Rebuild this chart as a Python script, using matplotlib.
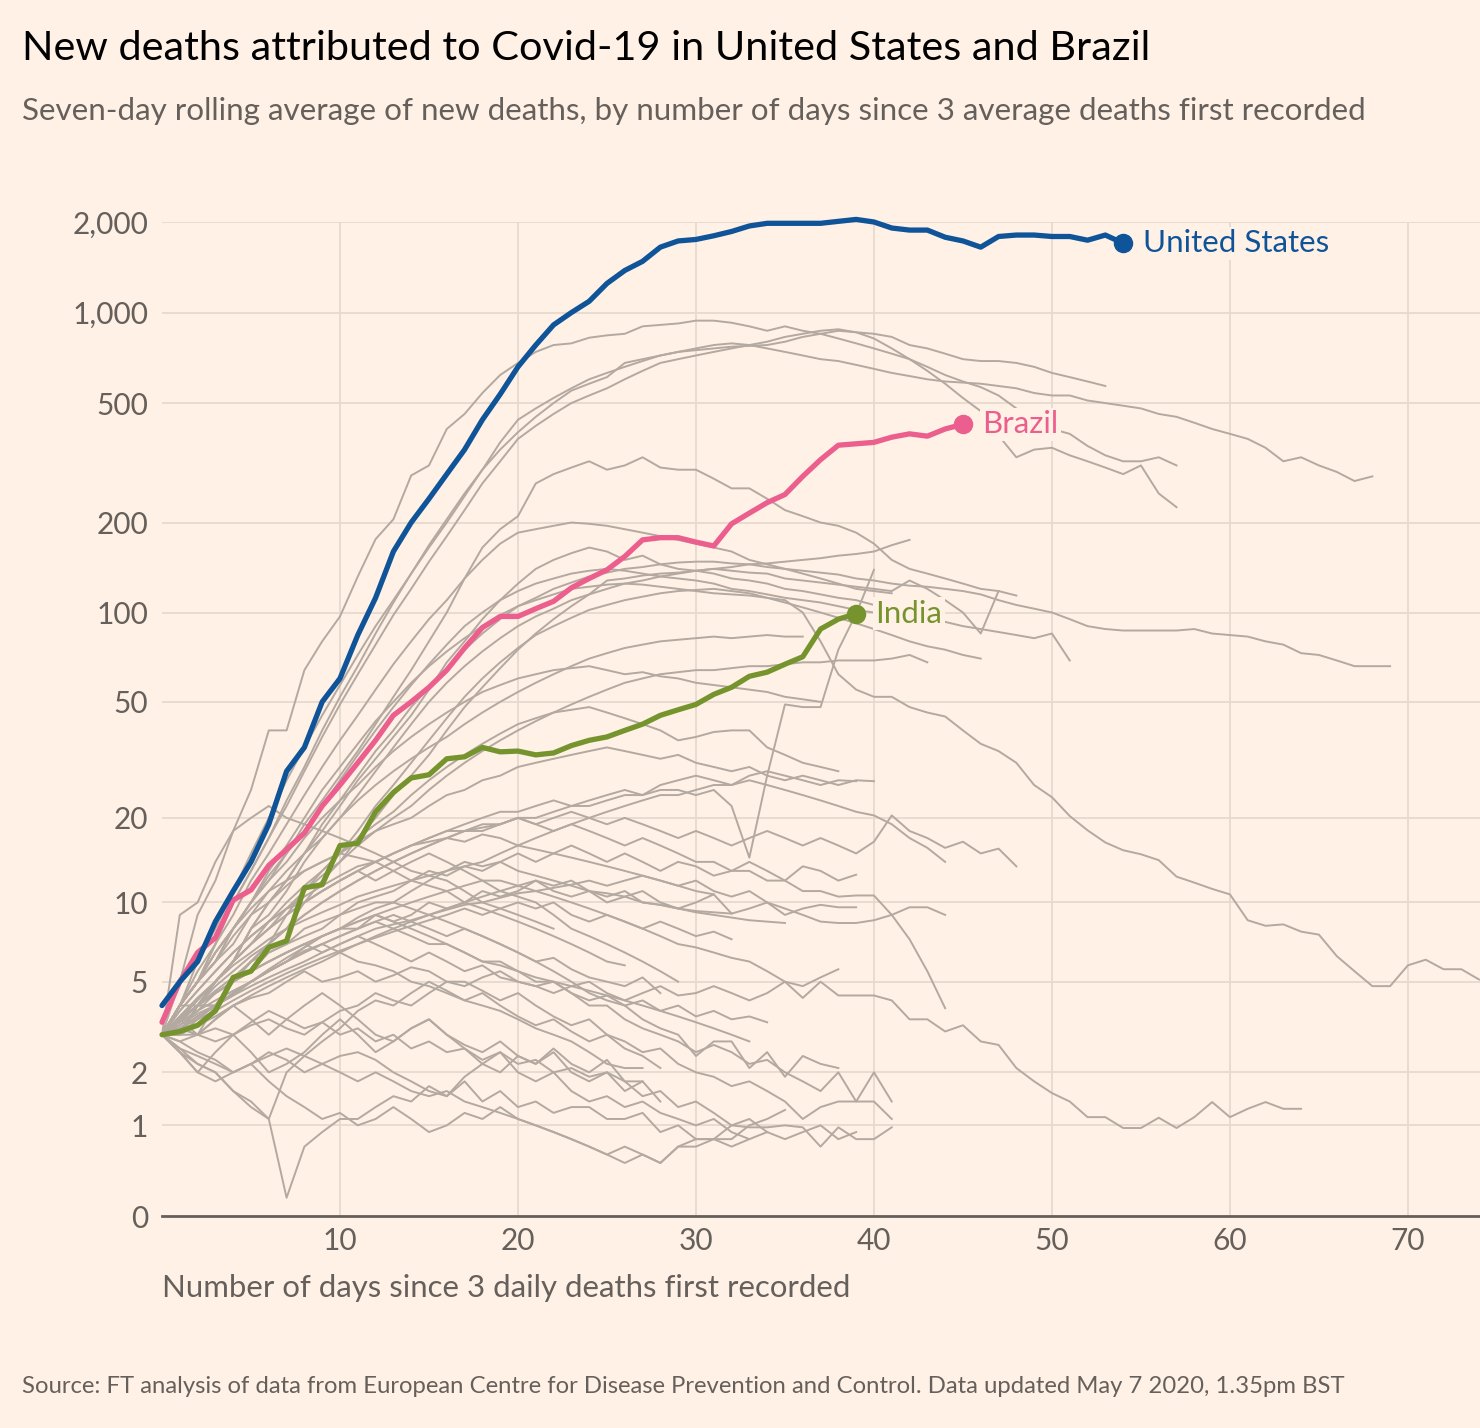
import numpy as np
import matplotlib
matplotlib.use('Agg')
import matplotlib.pyplot as plt

# ---- data: 7-day rolling average of new deaths, by day since 3 deaths ----
us_deaths = [4, 5, 6, 8.5, 11, 14, 19, 29, 35, 50, 60, 84, 112, 160, 200, 240, 290, 350,
             440, 535, 660, 780, 910, 1000, 1090, 1250, 1380, 1480, 1650, 1730, 1750,
             1800, 1860, 1940, 1980, 1980, 1980, 1980, 2010, 2040, 2000, 1910, 1880,
             1880, 1780, 1730, 1650, 1790, 1810, 1810, 1790, 1790, 1740, 1810, 1700]
brazil_deaths = [3.4, 5.0, 6.5, 7.4, 10.2, 11.1, 13.6, 15.5, 17.7, 22, 26, 31, 37, 45, 50,
                 56, 64, 76, 89, 97, 97, 103, 109, 121, 130, 139, 154, 175, 178, 178, 172,
                 167, 198, 215, 233, 248, 285, 324, 362, 366, 370, 385, 395, 388, 410, 425]
india_deaths = [3.0, 3.1, 3.3, 3.8, 5.2, 5.5, 6.8, 7.2, 11.3, 11.6, 16, 16.3, 21, 24.5, 27.5,
                28.2, 32, 32.5, 35, 33.8, 34, 33, 33.5, 35.5, 37, 38, 40, 42, 45, 47, 49, 53,
                56, 61, 63, 67, 71, 88, 95, 99]

# other countries (grey)
other_01 = [3, 4, 5, 7, 10, 13, 17, 23, 30, 40, 52, 66, 85, 108, 135, 168, 205, 250, 300, 350,
            400, 450, 500, 550, 580, 610, 680, 700, 720, 740, 750, 760, 770, 775, 780, 800,
            830, 850, 870, 860, 850, 830, 780, 760, 730, 700, 690, 690, 680, 660, 630, 610,
            590, 570]
other_02 = [3, 5, 9, 12, 18, 25, 40, 40, 64, 80, 97, 132, 176, 205, 287, 310, 410, 460, 540,
            620, 680, 740, 780, 790, 825, 840, 850, 900, 910, 920, 940, 940, 925, 900, 870,
            900, 870, 850, 820, 790, 760, 730, 700, 660, 620, 590, 565, 530, 480, 440, 410,
            395, 360, 335, 320, 320, 330, 310]
other_03 = [3, 4, 6, 8, 11, 15, 20, 27, 35, 45, 57, 72, 90, 110, 135, 165, 200, 245, 300, 370,
            440, 480, 520, 560, 600, 630, 660, 690, 720, 740, 760, 780, 790, 780, 760, 740,
            720, 700, 690, 670, 650, 630, 615, 600, 590, 585, 580, 570, 560, 540, 530, 530,
            510, 500, 490, 480, 460, 450, 430, 410, 395, 380, 355, 320, 330, 310, 295, 275, 285]
other_04 = [3, 4, 5, 7, 10, 13, 17, 22, 29, 38, 49, 62, 78, 98, 120, 148, 180, 220, 270, 320,
            380, 420, 460, 500, 530, 560, 600, 640, 680, 700, 720, 740, 760, 780, 800, 830,
            850, 870, 880, 860, 820, 760, 700, 640, 580, 520, 470, 390, 330, 350, 355, 335,
            320, 305, 290, 310, 250, 225]
other_05 = [3, 4, 5, 6, 8, 10, 12, 15, 19, 23, 28, 34, 42, 52, 64, 80, 100, 130, 165, 190, 210,
            270, 290, 305, 320, 300, 310, 330, 305, 300, 300, 280, 260, 260, 240, 220, 210, 200,
            195, 185, 170, 150, 140, 135, 130, 125, 120, 118, 114]
other_06 = [3, 3, 4, 5, 6, 8, 10, 12, 15, 19, 23, 28, 34, 40, 48, 56, 65, 75, 85, 95, 105, 112,
            120, 126, 132, 136, 140, 142, 145, 147, 148, 148, 146, 145, 142, 140, 138, 136, 134,
            130, 128, 125, 123, 122, 120, 118, 115, 110, 106, 103, 100, 95, 90, 88, 87, 87, 87,
            87, 88, 85, 84, 83, 80, 78, 73, 72, 69, 66, 66, 66]
other_07 = [3, 3, 4, 4, 5, 6, 7, 8, 10, 12, 14, 17, 20, 24, 28, 33, 40, 48, 56, 65, 75, 85, 95,
            105, 115, 128, 130, 133, 135, 136, 138, 140, 142, 145, 146, 148, 150, 152, 155, 157,
            160, 168, 175]
other_08 = [3, 3, 4, 5, 6, 8, 10, 12, 15, 18, 22, 27, 32, 38, 45, 55, 68, 80, 95, 110, 125, 140,
            150, 158, 165, 160, 150, 155, 145, 140, 138, 135, 130, 128, 125, 120, 118, 115, 112,
            110, 106, 102, 100, 96, 93, 90, 88, 86, 84, 82, 85, 69]
other_09 = [3, 3, 3, 4, 5, 6, 7, 9, 11, 13, 15, 18, 22, 26, 31, 37, 44, 52, 60, 68, 76, 84, 90,
            96, 102, 106, 110, 113, 116, 118, 119, 120, 118, 116, 112, 108, 104, 100, 96, 92, 88,
            84, 80, 77, 75, 72, 70]
other_10 = [3, 4, 4, 5, 6, 8, 9, 11, 14, 17, 20, 24, 29, 35, 42, 50, 58, 66, 74, 82, 90, 97, 103,
            110, 115, 120, 125, 128, 132, 135, 138, 140, 138, 136, 135, 130, 128, 126, 124, 122,
            120, 118, 128, 120, 110, 100, 85, 118]
other_11 = [3, 4, 5, 6, 8, 10, 13, 16, 20, 25, 30, 36, 43, 50, 58, 66, 74, 82, 90, 98, 105, 110,
            115, 120, 122, 124, 125, 124, 122, 120, 118, 116, 115, 114, 112, 110, 100, 80, 62, 55,
            52, 52, 48, 46, 44.6, 40, 36, 34, 31, 26, 23.6, 20.3, 18.1, 16.4, 15.4, 14.9, 14.2,
            12.4, 11.8, 11.2, 10.7, 8.6, 8.2, 8.3, 7.8, 7.6, 6.3, 5.5, 4.8, 4.8, 5.8, 6.1, 5.6,
            5.6, 5.1]
other_12 = [3, 3, 4, 4, 5, 6, 7, 8, 9, 10, 11, 12, 13, 14, 15, 16, 17, 18, 18, 19, 20, 20, 21,
            22, 22, 23, 24, 24, 25, 25, 24, 25, 22, 14.5, 28, 49, 48, 48, 75, 99, 139]
other_13 = [3, 4, 5, 6, 7, 9, 11, 13, 15, 17, 20, 23, 26, 29, 32, 35, 38, 42, 46, 50, 54, 58, 62,
            66, 70, 73, 76, 78, 80, 81, 82, 83, 82, 83, 84, 83, 83]
other_14 = [3, 3.5, 4, 5, 6, 7, 8, 9.5, 11, 12.5, 14, 16, 18, 20, 22, 25, 28, 31, 34, 37, 40, 43,
            46, 49, 52, 55, 58, 60, 62, 63, 64, 64, 65, 66, 66, 67, 68, 68, 69, 69, 69, 70, 72, 68]
other_15 = [3, 3.6, 4.3, 5, 6, 7, 8.5, 10, 11.5, 13, 15, 17, 19, 21, 24, 27, 30, 33, 36, 39, 42,
            44, 46, 47, 48, 46, 44, 42, 40, 37, 38, 39.5, 40, 40, 35, 33, 31, 30, 29]
other_16 = [3, 4, 5, 6.5, 8, 10, 12, 14, 17, 20, 23, 26, 30, 34, 38, 42, 46, 50, 54, 57, 60, 62,
            64, 65, 66, 64, 62, 63, 61, 60, 58, 57, 56, 55, 54, 52, 51, 50]
other_17 = [3, 4, 5.5, 7, 9, 12, 15, 19, 24, 30, 37, 45, 55, 67, 80, 95, 110, 130, 150, 170, 185,
            190, 195, 200, 198, 195, 190, 185, 180, 175, 170, 165, 160, 150, 145, 140, 135, 130,
            125, 120, 118, 116]
other_18 = [3, 4, 5, 6.5, 8, 10, 12.5, 15, 18, 22, 27, 33, 40, 48, 57, 67, 78, 90, 100, 110, 118,
            125, 130, 135, 138, 140, 138, 135, 132, 130, 128, 125, 120, 118, 115, 112, 110, 108,
            105, 102, 100]
other_19 = [3, 3.5, 4, 4.5, 5, 5.5, 6, 6.5, 7, 7.5, 8, 8, 8.5, 8, 7.5, 7, 7, 6.5, 6, 6, 5.5, 5,
            5, 4.5, 4, 4, 3.5, 3.2, 3, 2.8, 2.5, 2.7, 2.5, 2.2, 2.3, 2, 1.8, 1.6, 2, 1.4, 2, 1.4]
other_20 = [3, 3.2, 3, 3.5, 4, 4.3, 4.5, 5, 5.5, 5, 5.2, 5.5, 5, 5.3, 5.7, 5.5, 5, 5, 4.6, 4.2,
            4.5, 4, 3.6, 3.3, 3.5, 3, 2.8, 2.5, 2.6, 2.2, 2, 1.9, 1.7, 1.8, 1.6, 1.4, 1.1, 1.3,
            1.4, 1.4, 1.4, 1.1]
other_21 = [3, 2.8, 2.5, 2.3, 2, 2.2, 2.5, 2.3, 2, 2.2, 2.4, 2.5, 2.3, 2, 1.8, 1.6, 1.5, 1.8,
            1.4, 1.6, 1.3, 1.4, 1.2, 1.3, 1.3, 1.1, 1.1, 1.2, 0.9, 1.0, 0.8, 0.8, 1.0, 0.97,
            0.97, 1.0, 0.97, 0.7, 0.97, 0.8, 0.8, 0.97]
other_22 = [3, 3.3, 3.8, 4.5, 5, 5.5, 6.5, 7, 7.5, 8, 9, 9.5, 10, 10, 9.5, 9, 8.5, 8, 7.5, 7,
            6.5, 6, 5.5, 5, 4.5, 4.2, 4, 3.5, 3.2, 3, 2.4, 2.8, 2.8, 2.1, 2.5, 1.9, 2.4, 2.2, 2.1]
other_23 = [3, 2.5, 2.2, 2, 1.6, 1.3, 1.1, 0.15, 0.7, 0.9, 1.1, 1.1, 1.3, 1.5, 1.4, 1.7, 1.5,
            1.9, 2.2, 2.0, 2.4, 2.2, 2.6, 2.2, 2.0, 2.3, 1.8, 1.5, 1.6, 1.3, 1.4, 1.2, 1.0, 1.1, 0.9]
other_24 = [3, 2.6, 2.2, 2, 1.6, 1.4, 1.1, 2, 2.4, 2.8, 3.2, 3.8, 4.2, 4, 4.5, 5, 4.6, 4.2, 4.5,
            4, 3.6, 3.3, 3.5, 3.1, 2.8, 3, 2.6, 2.4, 2.1]
other_25 = [3, 3.5, 4, 4.8, 5.5, 6.3, 7, 8, 9, 10, 11, 12, 13, 14, 15, 16, 17, 18, 18.5, 19, 20,
            19, 20, 21, 20, 19, 20, 19, 18, 17, 18, 17, 16, 17, 18, 17, 16, 17, 16, 15, 16.5,
            20.4, 18, 17, 15.7, 16.5, 15, 15.6, 13.5]
other_26 = [3, 3.2, 3.6, 4, 4.5, 5, 5.5, 6, 6.8, 7.5, 8, 8.8, 9.5, 10, 11, 12, 13, 13.5, 14, 15,
            16, 17, 18, 19, 20, 21, 22, 23, 24, 24, 25, 26, 26, 27, 26, 25, 24, 23, 22, 21, 20.4,
            19, 17, 15.7, 14]
other_27 = [3, 3.5, 4.2, 5, 6, 7, 8, 9, 10, 11, 12, 13, 14, 15, 16, 17, 18, 19, 20, 21, 21, 22,
            23, 22, 23, 24, 25, 24, 26, 27, 28, 27, 26, 28, 29, 28, 27, 26, 27, 26.8]
other_28 = [3, 4, 5, 6, 7.5, 9, 10, 11.5, 13, 14, 15, 16.5, 18, 19, 20, 22, 24, 25, 27, 28, 30,
            31, 32, 33, 34, 35, 34, 33, 32, 33, 31, 30, 29, 30, 28, 27, 28, 27, 26, 27, 26.8]
other_29 = [3, 3.4, 4, 4.6, 5.2, 6, 6.5, 7, 8, 8.5, 9, 10, 10.5, 11, 12, 12.5, 13, 14, 13.5, 14,
            15, 14, 15, 16, 15, 14, 15, 14, 13, 14, 13.5, 12.5, 13, 14, 13, 12, 13.5, 13, 12, 12.6]
other_30 = [3, 3, 3.5, 4, 4.5, 5, 5.5, 6, 6.5, 7, 7.5, 8, 9, 8.5, 9, 10, 9.5, 10, 11, 10.5, 11,
            12, 11, 10.5, 11, 10, 10.5, 11, 10, 9.5, 10, 10.7, 9.1, 9.5, 10, 9, 9.5, 9.8, 9.6, 9.6]
other_31 = [3, 3.3, 3.7, 4, 4.4, 4.8, 5.2, 5.6, 6, 6.5, 7, 7.5, 8, 8.3, 8.6, 9, 9.4, 9.8, 10,
            10.4, 10.8, 11, 11.3, 11.6, 12, 11.5, 12, 12.5, 12, 11.5, 12, 11, 10.5, 11, 10, 9.5,
            9, 8.5, 8.4, 8.4, 8.6, 9.0, 9.6, 9.6, 9.0]
other_32 = [3, 3.5, 4, 5, 6, 7, 8, 9, 10, 11, 12, 13, 14, 15, 16, 17, 18, 18, 19, 19, 20, 19,
            18, 19, 18, 17, 16, 17, 16, 15, 14, 14, 13, 13, 12, 12, 11, 11, 10.5, 10.6, 10.6, 9,
            7.3, 5.5, 3.9]
other_33 = [3, 3.5, 4, 4.5, 5, 5.5, 6, 6.5, 7, 7.5, 8, 8.5, 9, 9.5, 10, 10.5, 11, 11.5, 12, 12,
            11.5, 11, 10.5, 10, 9.5, 9, 8.5, 8, 7.5, 7, 6.8, 6.5, 6.2, 6, 5.5, 5, 4.3, 5, 4.4,
            4.4, 4.4, 4.2, 3.5, 3.5, 3.1, 3.3, 2.8, 2.7, 2.1, 1.8, 1.56, 1.4, 1.13, 1.13, 0.96,
            0.96, 1.12, 0.96, 1.13, 1.39, 1.13, 1.27, 1.39, 1.27, 1.27]
other_34 = [3, 3.2, 3, 2.8, 3, 3.3, 3.5, 3.2, 3, 3.4, 3.8, 4, 4.5, 4.2, 4, 4.5, 5, 4.8, 5.2, 5.5,
            5, 4.8, 4.5, 4.8, 5, 4.5, 4.2, 4.5, 4.8, 4.4, 4.5, 4.8, 4.5, 4.2, 4.5, 5, 4.8, 5.2, 5.6]
other_35 = [3, 3.5, 4, 4.5, 5, 5.5, 6, 6.5, 7, 6.5, 7, 7.5, 7, 6.5, 6, 6.5, 6, 5.5, 5.8, 5.2, 5,
            4.8, 5, 4.5, 4.2, 4.4, 4, 4.2, 3.8, 4, 3.6, 3.8, 3.5, 3.6, 3.4]
other_36 = [3, 3.2, 3.6, 4, 4.4, 5, 5.5, 6, 6.6, 7, 7.5, 8, 8.5, 9, 8.5, 8, 7.5, 8, 7.5, 7, 6.5,
            6, 6.2, 5.6, 5.2, 5, 4.8, 5.2, 4.5]
other_37 = [3, 3.4, 3.8, 4.2, 4.6, 5, 5.5, 6, 6.5, 7, 6.5, 6, 5.8, 5.5, 5, 4.8, 4.5, 4.2, 4, 3.8,
            3.5, 3.2, 3, 2.8, 2.5, 2.2, 2.1, 2.1]
other_38 = [3, 2.8, 3, 3.2, 3, 3.4, 3.8, 3.5, 3.2, 3.4, 3, 3.2, 2.8, 3, 2.6, 2.8, 2.5, 2.6, 2.3,
            2.5, 2.2, 2.3, 2, 2.1, 1.9, 2, 1.8, 1.8]
other_39 = [3, 2.6, 2.4, 2.2, 2, 2.2, 2.4, 2.6, 2.4, 2.2, 2, 1.8, 2, 1.8, 1.6, 1.5, 1.6, 1.4, 1.3,
            1.2, 1.1, 1.0, 0.9, 0.8, 0.7, 0.6, 0.7, 0.6, 0.5, 0.7, 0.7, 0.8, 0.8, 1.0, 1.1, 1.25]
other_40 = [3, 3.6, 4.3, 5, 5.8, 6.5, 7.3, 8, 8.6, 9.2, 9.8, 10.5, 11, 11.5, 12, 13, 12.5, 13.5,
            13, 14, 13, 12.5, 12, 11.5, 11, 10.8, 10.5, 10, 9.8, 9.5, 9.2, 9, 8.8, 8.6, 8.5, 8.4]
other_41 = [3, 3.2, 3.5, 3.8, 4.2, 4.6, 5, 5.4, 5.8, 6.2, 6.6, 7, 7.4, 7.8, 8.2, 8.6, 9, 9.5, 9,
            9.5, 10, 9.5, 10, 9, 8.5, 9, 8.5, 8, 8.5, 8, 7.5, 7.8, 7.3]
other_42 = [3, 3.8, 4.6, 5.5, 6.5, 7.5, 8.5, 9.5, 10.5, 11.5, 12.5, 13.5, 14, 15, 16, 16.5, 17,
            16.5, 17.5, 17, 16, 15.5, 15, 14.5, 14, 13.5, 13, 12.5, 12, 11.5, 11, 10.7]
other_43 = [3, 3, 3.3, 3.6, 4, 4.4, 4.8, 5.2, 5.6, 6, 6.5, 7, 7.5, 8, 8.5, 9, 9.5, 10, 10.5, 11,
            11.5, 12, 11.5, 12, 11, 10.5, 11, 10, 9.8, 9.5, 9.3, 9.2, 9.1]
other_44 = [3, 4, 5, 6.5, 8, 9.5, 11, 12, 13, 14, 15, 14.5, 14, 13, 12, 11.5, 11, 10, 9.5, 9, 8.5,
            8, 7.5, 7, 6.5, 6, 5.8]
other_45 = [3, 3.8, 4.6, 5.5, 6.5, 7.5, 8.5, 9.5, 10, 11, 12, 13, 12, 13, 14, 15, 14, 13, 12, 11,
            10.5, 10, 9, 8, 7.5, 7, 6.5, 6, 5.5, 5]
other_46 = [3, 9, 10, 14, 18, 20, 22, 20, 19, 18, 17, 16, 15, 14, 13, 12.5, 12, 11, 10, 9.5, 9,
            8.5, 8]
other_47 = [3, 2.5, 2, 2.5, 3, 2.5, 2, 2.2, 2.5, 3, 3.5, 3, 2.5, 2.8, 3.2, 3.5, 3, 2.6, 2.2, 2.5,
            2, 1.8, 2, 1.6, 1.4, 1.5, 1.3, 1.4, 1.2, 1.1, 1.0, 1.1, 0.9, 0.8, 0.9, 0.8, 0.9, 1.0,
            0.8, 0.9]
other_48 = [3, 3.5, 3, 3.5, 4, 3.5, 3, 3.5, 4, 4.5, 4, 3.5, 3, 2.8, 3.2, 3.5, 3, 2.7, 2.5, 2.8,
            2.4, 2.2, 2.5, 2, 1.8, 2, 1.6, 1.8, 1.4]
other_49 = [3, 3.2, 3.6, 4, 4.5, 5, 5.6, 6.2, 6.8, 7.5, 8, 8.5, 9, 8.5, 8, 7.5, 7, 6.5, 6, 5.8,
            5.5, 5.2, 5, 4.8, 4.6, 4.4, 4.2, 4, 3.8, 3.6, 3.4, 3.2, 3.0, 2.8]
other_50 = [3, 2.5, 2, 1.8, 2, 2.2, 1.8, 1.5, 1.3, 1.1, 1.2, 1.0, 1.1, 1.3, 1.1, 0.9, 1.0, 1.2,
            1.1, 1.3, 1.1, 1.0, 0.9, 0.8, 0.7, 0.6, 0.5, 0.6, 0.5, 0.7, 0.8, 0.8, 0.7, 0.8]

others = [other_01, other_02, other_03, other_04, other_05, other_06, other_07, other_08,
          other_09, other_10, other_11, other_12, other_13, other_14, other_15, other_16,
          other_17, other_18, other_19, other_20, other_21, other_22, other_23, other_24,
          other_25, other_26, other_27, other_28, other_29, other_30, other_31, other_32,
          other_33, other_34, other_35, other_36, other_37, other_38, other_39, other_40,
          other_41, other_42, other_43, other_44, other_45, other_46, other_47, other_48,
          other_49, other_50]

y_ticks = [0, 1, 2, 5, 10, 20, 50, 100, 200, 500, 1000, 2000]
y_labels = ['0', '1', '2', '5', '10', '20', '50', '100', '200', '500', '1,000', '2,000']
x_ticks = [10, 20, 30, 40, 50, 60, 70]

BG = '#FFF1E5'
GRID = '#E6D9CE'
TXT = '#66605C'
GREY = '#B3A9A1'
BLUE = '#0F5499'
PINK = '#EB5E8D'
GREEN = '#76942E'

plt.rcParams['font.family'] = ['Lato', 'DejaVu Sans']

W, H = 1480, 1428
fig = plt.figure(figsize=(W / 100, H / 100), dpi=100, facecolor=BG)
ax = fig.add_axes([162 / W, 1 - 1216 / H, (W - 162) / W, (1216 - 222) / H])
ax.set_facecolor(BG)

# y axis is log(1 + deaths)
ax.set_yscale('function', functions=(lambda y: np.log10(np.clip(y, 0, None) + 1),
                                     lambda v: 10 ** v - 1))
ax.set_ylim(0, 2000)
ax.set_xlim(0, 74.05)

for s in others:
    ax.plot(np.arange(len(s)), s, color=GREY, lw=1.4, zorder=2, clip_on=False)

for vals, col, name in [(india_deaths, GREEN, 'India'),
                        (brazil_deaths, PINK, 'Brazil'),
                        (us_deaths, BLUE, 'United States')]:
    d = np.arange(len(vals))
    ax.plot(d, vals, color=col, lw=3.8, zorder=4, clip_on=False,
            solid_joinstyle='round', solid_capstyle='round')
    ax.plot(d[-1], vals[-1], 'o', color=col, ms=13, zorder=5, clip_on=False)
    ax.annotate(name, xy=(d[-1], vals[-1]), xytext=(14, 0), textcoords='offset points',
                va='center', ha='left', color=col, fontsize=22.5, zorder=6,
                bbox=dict(boxstyle='square,pad=0.08', fc=BG, ec='none'))

ax.set_yticks(y_ticks)
ax.set_yticklabels(y_labels)
ax.set_xticks(x_ticks)
ax.minorticks_off()
ax.tick_params(length=0, labelsize=21.5, colors=TXT, pad=8)
ax.tick_params(axis='y', pad=10)
ax.grid(True, color=GRID, lw=1.3, zorder=0)
for sp in ['top', 'right', 'left']:
    ax.spines[sp].set_visible(False)
ax.spines['bottom'].set_color(TXT)
ax.spines['bottom'].set_linewidth(2)
ax.spines['bottom'].set_zorder(3)


def fit(t, width_px):
    r = fig.canvas.get_renderer()
    w = t.get_window_extent(r).width
    t.set_fontsize(t.get_fontsize() * width_px / w)


fig.canvas.draw()
t1 = fig.text(22 / W, 1 - 60 / H, 'New deaths attributed to Covid-19 in United States and Brazil',
              fontsize=26, color='#000000', va='baseline')
t2 = fig.text(22 / W, 1 - 120 / H, 'Seven-day rolling average of new deaths, by number of days '
              'since 3 average deaths first recorded', fontsize=20, color=TXT, va='baseline')
t3 = fig.text(162 / W, 1 - 1297 / H, 'Number of days since 3 daily deaths first recorded',
              fontsize=20, color=TXT, va='baseline')
t4 = fig.text(22 / W, 1 - 1393 / H, 'Source: FT analysis of data from European Centre for Disease '
              'Prevention and Control. Data updated May 7 2020, 1.35pm BST',
              fontsize=16, color=TXT, va='baseline')
fit(t1, 1125)
fit(t2, 1346)
fit(t3, 690)
fit(t4, 1330)

fig.savefig('out.png', dpi=100, facecolor=BG)
